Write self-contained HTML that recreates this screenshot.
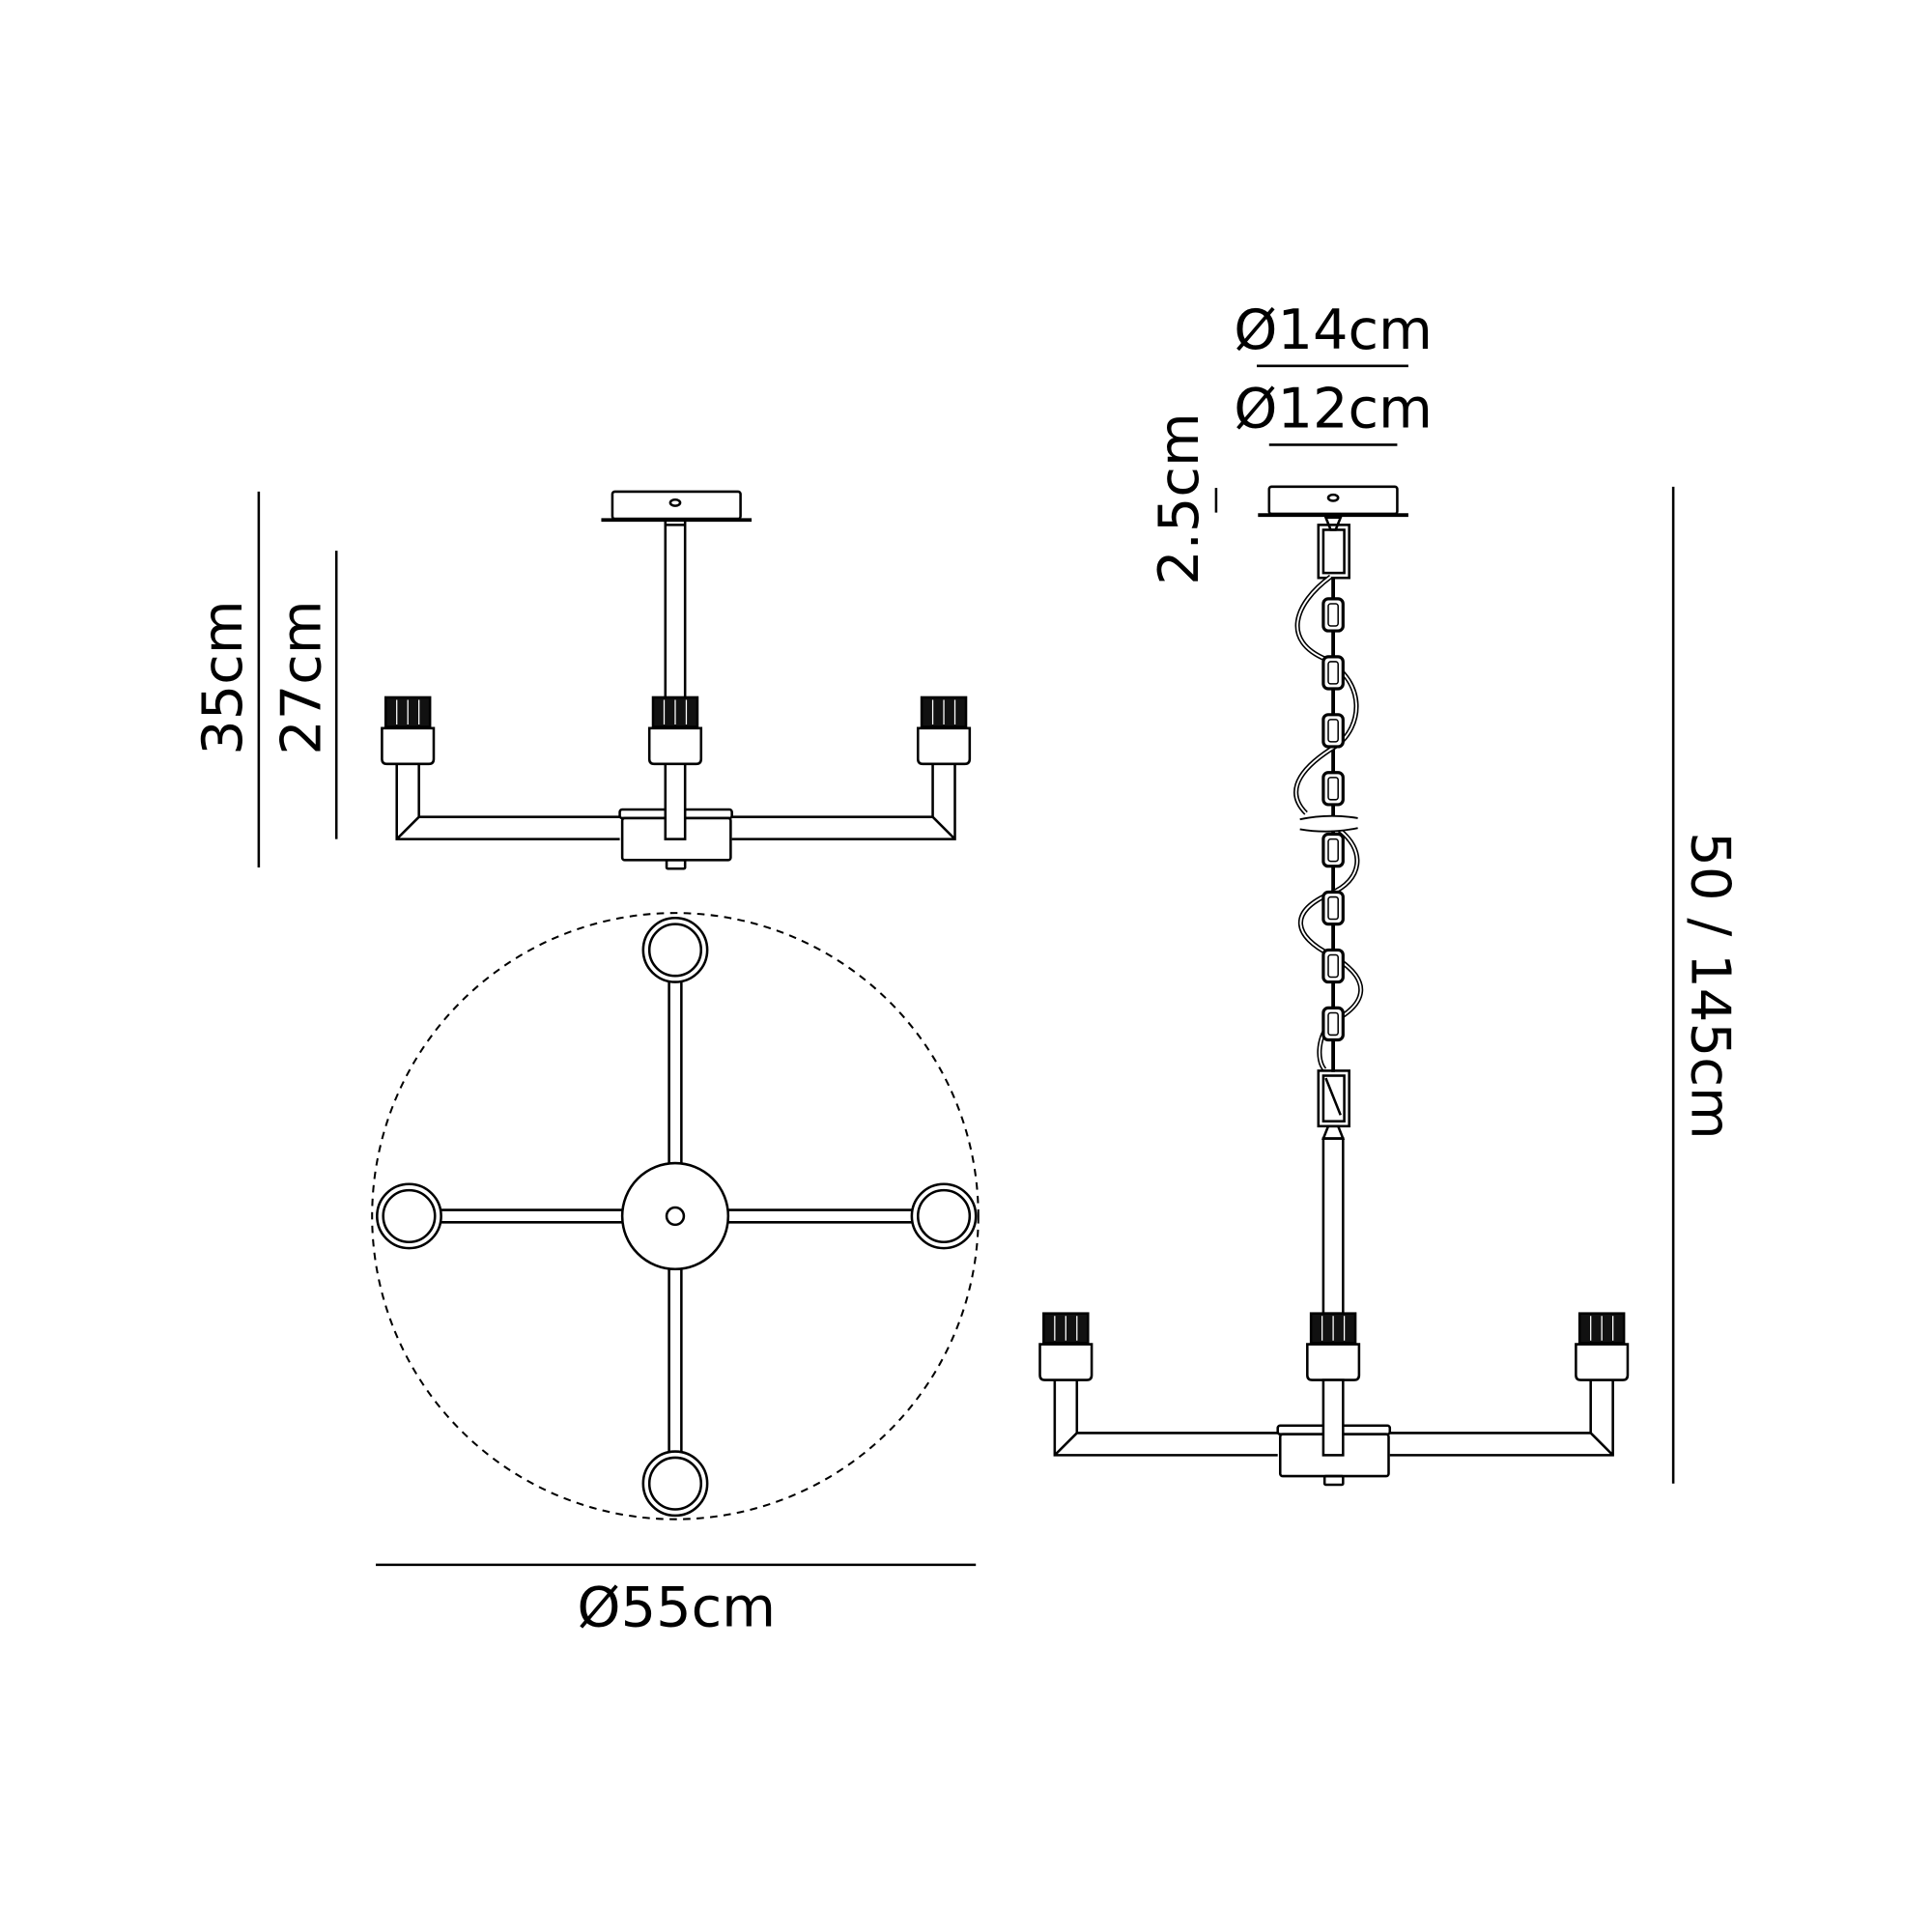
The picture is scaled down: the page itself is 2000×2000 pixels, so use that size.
<!DOCTYPE html>
<html><head><style>html,body{margin:0;padding:0;background:#fff}svg{display:block}</style></head>
<body>
<svg width="2000" height="2000" viewBox="0 0 1568 1568" xmlns="http://www.w3.org/2000/svg" font-family="'DejaVu Sans','Liberation Sans',sans-serif" fill="none" stroke="#000" stroke-width="2">
<defs>
<g id="sock">
  <rect x="-18" y="0" width="36" height="24" fill="#111" stroke="#000"/>
  <line x1="-9" y1="2" x2="-9" y2="22" stroke="#fff" stroke-width="1"/>
  <line x1="0" y1="2" x2="0" y2="22" stroke="#fff" stroke-width="1"/>
  <line x1="9" y1="2" x2="9" y2="22" stroke="#fff" stroke-width="1"/>
  <path d="M-21 25 L21 25 L21 50 Q21 54 17 54 L-17 54 Q-21 54 -21 50 Z" fill="#fff"/>
</g>
<g id="side">
  <g transform="translate(331,566)"><use href="#sock"/></g>
  <g transform="translate(548,566)"><use href="#sock"/></g>
  <g transform="translate(766,566)"><use href="#sock"/></g>
  <path d="M322 620 V681 H503 M340 620 V663 H503 M322 681 L340 663"/>
  <path d="M775 620 V681 H594 M757 620 V663 H594 M775 681 L757 663"/>
  <rect x="503" y="657" width="91" height="7" rx="2" fill="#fff"/>
  <rect x="505" y="664" width="88" height="34" rx="2" fill="#fff"/>
  <rect x="541" y="698" width="15" height="7" rx="1"/>
  <rect x="540" y="620" width="16" height="61" fill="#fff"/>
</g>
<g id="link"><rect x="-8" y="0" width="16" height="26" rx="4" stroke-width="2.5"/><rect x="-4" y="4" width="8" height="18" rx="2" stroke-width="1.2"/></g>
</defs>

<rect x="497" y="399" width="104" height="22" rx="2"/>
<line x1="488" y1="422" x2="610" y2="422" stroke-width="3"/>
<ellipse cx="548" cy="408" rx="4" ry="2.5"/>
<path d="M540 422 V566 M556 422 V566 M540 426 H556"/>
<use href="#side"/>

<line x1="210" y1="399" x2="210" y2="704"/>
<line x1="273" y1="447" x2="273" y2="681"/>
<text transform="translate(196,550) rotate(-90)" text-anchor="middle" font-size="45" fill="#000" stroke="none">35cm</text>
<text transform="translate(260,550) rotate(-90)" text-anchor="middle" font-size="45" fill="#000" stroke="none">27cm</text>

<circle cx="548" cy="987" r="246" stroke-dasharray="6 5" stroke-width="1.6"/>
<path d="M543 797 V944 M553 797 V944 M543 1030 V1178 M553 1030 V1178"/>
<path d="M358 982 H505 M358 992 H505 M591 982 H740 M591 992 H740"/>
<circle cx="548" cy="987" r="43"/>
<circle cx="548" cy="987" r="7"/>
<circle cx="548" cy="771" r="26"/><circle cx="548" cy="771" r="21"/>
<circle cx="332" cy="987" r="26"/><circle cx="332" cy="987" r="21"/>
<circle cx="766" cy="987" r="26"/><circle cx="766" cy="987" r="21"/>
<circle cx="548" cy="1204" r="26"/><circle cx="548" cy="1204" r="21"/>
<line x1="305" y1="1270" x2="792" y2="1270"/>
<text x="549" y="1320" text-anchor="middle" font-size="45" fill="#000" stroke="none">Ø55cm</text>

<text x="1082" y="283" text-anchor="middle" font-size="45" fill="#000" stroke="none">Ø14cm</text>
<line x1="1020" y1="297" x2="1143" y2="297"/>
<text x="1082" y="347" text-anchor="middle" font-size="45" fill="#000" stroke="none">Ø12cm</text>
<line x1="1030" y1="361" x2="1134" y2="361"/>
<text transform="translate(972,405) rotate(-90)" text-anchor="middle" font-size="45" fill="#000" stroke="none">2.5cm</text>
<line x1="987" y1="396" x2="987" y2="416"/>

<rect x="1030" y="395" width="104" height="22" rx="2"/>
<line x1="1021" y1="418" x2="1143" y2="418" stroke-width="3"/>
<ellipse cx="1082" cy="404" rx="4" ry="2.5"/>
<path d="M1076 420 L1088 420 L1084 430 L1080 430 Z"/>
<rect x="1070" y="426" width="25" height="43"/><rect x="1074" y="430" width="17" height="35"/>
<line x1="1082" y1="469" x2="1082" y2="870" stroke-width="3"/>
<path d="M1080 468 C1050 490 1040 520 1076 535 C1110 555 1105 590 1085 605 C1060 620 1040 640 1060 660" stroke-width="4"/>
<path d="M1080 468 C1050 490 1040 520 1076 535 C1110 555 1105 590 1085 605 C1060 620 1040 640 1060 660" stroke="#fff" stroke-width="1.5"/>
<path d="M1085 672 C1110 690 1105 715 1080 725 C1045 740 1050 760 1080 775 C1115 795 1110 815 1080 830 C1070 840 1068 860 1075 868" stroke-width="4"/>
<path d="M1085 672 C1110 690 1105 715 1080 725 C1045 740 1050 760 1080 775 C1115 795 1110 815 1080 830 C1070 840 1068 860 1075 868" stroke="#fff" stroke-width="1.5"/>
<g fill="#fff">
<use href="#link" transform="translate(1082,486)"/>
<use href="#link" transform="translate(1082,533)"/>
<use href="#link" transform="translate(1082,580)"/>
<use href="#link" transform="translate(1082,627)"/>
<use href="#link" transform="translate(1082,677)"/>
<use href="#link" transform="translate(1082,724)"/>
<use href="#link" transform="translate(1082,771)"/>
<use href="#link" transform="translate(1082,818)"/>
</g>
<rect x="1052" y="662" width="50" height="12" fill="#fff" stroke="none"/>
<path d="M1055 665 Q1078 660 1102 664 M1055 673 Q1078 677 1102 672" stroke-width="1.5"/>
<rect x="1070" y="869" width="25" height="45"/><rect x="1074" y="873" width="17" height="37"/>
<path d="M1076 875 L1088 905"/>
<path d="M1078 914 L1086 914 L1090 924 L1074 924 Z"/>
<rect x="1074" y="924" width="16" height="142"/>
<g transform="translate(534,500)"><use href="#side"/></g>

<line x1="1358" y1="395" x2="1358" y2="1204"/>
<text transform="translate(1373,800) rotate(90)" text-anchor="middle" font-size="44" fill="#000" stroke="none">50 / 145cm</text>
</svg>
</body></html>
